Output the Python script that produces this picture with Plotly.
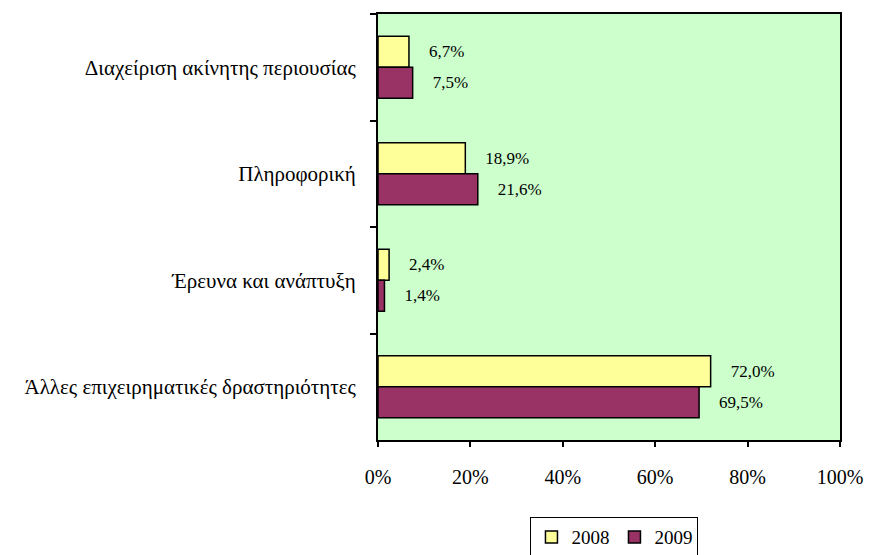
import plotly.graph_objects as go

categories = ["Διαχείριση ακίνητης περιουσίας", "Πληροφορική", "Έρευνα και ανάπτυξη",
              "Άλλες επιχειρηματικές δραστηριότητες"]
values_2008 = [6.7, 18.9, 2.4, 72.0]
values_2009 = [7.5, 21.6, 1.4, 69.5]
x_ticks = [0, 20, 40, 60, 80, 100]
x_tick_labels = ["0%", "20%", "40%", "60%", "80%", "100%"]

def fmt(v):
    return "    " + f"{v:.1f}".replace(".", ",") + "%"

font = "Liberation Serif"

fig = go.Figure()
for name, vals, color in [("2008", values_2008, "#FFFF99"), ("2009", values_2009, "#993366")]:
    fig.add_trace(go.Bar(
        y=categories, x=vals, orientation="h", name=name,
        marker=dict(color=color, line=dict(color="black", width=1.5)),
        text=[fmt(v) for v in vals], textposition="outside",
        textfont=dict(family=font, size=17, color="black"),
        cliponaxis=False,
    ))

fig.update_layout(
    width=869, height=555,
    margin=dict(l=378, r=29, t=14, b=115, autoexpand=False),
    plot_bgcolor="#CCFFCC", paper_bgcolor="white",
    barmode="group", bargap=0.42, bargroupgap=0,
    font=dict(family=font, size=19, color="black"),
    showlegend=True,
    legend=dict(orientation="h", x=0.33, xanchor="left", y=-0.181, yanchor="top",
                bordercolor="black", borderwidth=1, font=dict(size=19),
                itemwidth=30, tracegroupgap=0),
)
fig.update_xaxes(range=[0, 100], tickvals=x_ticks, ticktext=x_tick_labels,
                 ticks="outside", ticklen=5, tickcolor="black", tickwidth=2,
                 showgrid=False, zeroline=False, showline=True, linecolor="black",
                 linewidth=2, mirror=True, ticklabelstandoff=13,
                 ticklabeloverflow="allow", tickfont=dict(size=20))
fig.update_yaxes(categoryorder="array", categoryarray=categories, autorange="reversed",
                 ticks="outside", ticklen=6, tickcolor="black", tickwidth=2,
                 tickson="boundaries", showgrid=False, showline=True, linecolor="black",
                 linewidth=2, mirror=True, ticklabelstandoff=16,
                 tickfont=dict(size=21))

fig.write_html("out.html", config={"displayModeBar": False},
               post_script="document.body.style.margin='0';document.body.style.overflow='hidden';")
